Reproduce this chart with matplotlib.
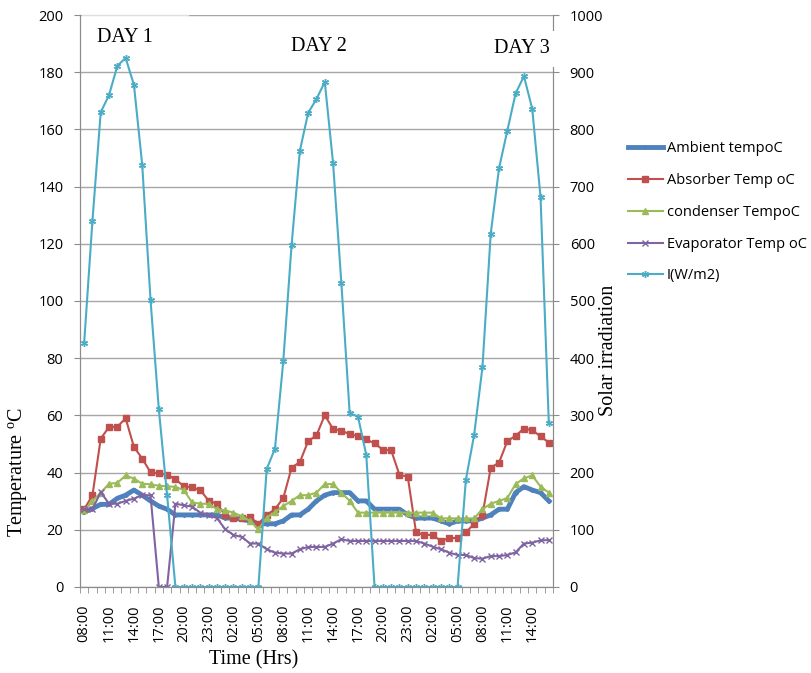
import numpy as np
import matplotlib
matplotlib.use('Agg')
import matplotlib.pyplot as plt
from matplotlib.patches import Rectangle

plt.rcParams['font.family'] = ['Open Sans', 'DejaVu Sans']
plt.rcParams['mathtext.fontset'] = 'custom'
plt.rcParams['mathtext.rm'] = 'Liberation Serif'

hours = ['08:00', '11:00', '14:00', '17:00', '20:00', '23:00', '02:00', '05:00',
	'08:00', '11:00', '14:00', '17:00', '20:00', '23:00', '02:00', '05:00',
	'08:00', '11:00', '14:00']

ambient = [26.2, 27.4, 28.9, 28.9, 31.0, 32.1, 33.9, 32.1, 30.1, 28.3,
	27.2, 25.2, 25.2, 25.2, 25.2, 25.2, 25.2, 24.1, 24.1, 23.6,
	23.1, 22.1, 22.1, 22.1, 23.1, 25.2, 25.2, 27.2, 30.1, 32.1,
	33.0, 33.0, 33.0, 30.1, 30.1, 27.2, 27.2, 27.2, 27.2, 25.2,
	24.1, 24.1, 24.1, 23.1, 22.1, 23.1, 23.1, 23.1, 24.1, 25.2,
	27.2, 27.2, 33.0, 35.1, 33.9, 33.0, 30.1]

absorber = [27.2, 32.0, 51.9, 55.9, 56.0, 59.0, 49.0, 44.9, 40.1, 39.7,
	39.3, 37.6, 35.3, 34.8, 33.9, 30.2, 29.1, 25.2, 24.1, 24.0,
	24.4, 22.1, 25.2, 27.2, 31.1, 41.7, 43.7, 51.0, 53.0, 60.1,
	55.2, 54.7, 53.4, 52.8, 51.6, 50.2, 48.0, 47.8, 39.2, 38.6,
	19.1, 18.2, 18.2, 16.1, 17.1, 17.1, 19.1, 22.1, 25.2, 41.7,
	43.5, 51.0, 52.9, 55.4, 54.8, 52.7, 50.5]

condenser = [26.8, 30.0, 33.0, 36.1, 36.4, 39.0, 37.9, 36.1, 35.9, 35.4,
	35.2, 35.0, 33.9, 29.6, 29.1, 29.1, 27.2, 26.8, 26.0, 24.7,
	23.1, 20.2, 24.2, 26.2, 28.3, 30.1, 32.1, 32.1, 33.0, 36.0,
	36.0, 33.0, 30.1, 26.0, 26.0, 26.0, 26.0, 26.0, 26.0, 26.0,
	26.0, 26.0, 26.0, 24.0, 24.0, 24.0, 24.0, 24.0, 27.2, 29.1,
	30.1, 31.1, 36.0, 38.0, 39.0, 35.1, 33.0]

evaporator = [27.2, 27.2, 33.2, 29.1, 29.1, 30.1, 30.9, 32.1, 32.1, 0.0,
	0.0, 29.1, 28.6, 28.1, 26.0, 25.1, 24.1, 20.2, 18.2, 17.5,
	15.2, 15.2, 13.2, 12.0, 11.7, 11.7, 13.2, 14.0, 14.0, 14.0,
	15.2, 16.7, 16.1, 16.1, 16.1, 16.1, 16.1, 16.1, 16.1, 16.1,
	16.1, 15.2, 14.1, 13.2, 12.0, 11.2, 11.2, 10.1, 9.9, 10.8,
	10.8, 11.2, 12.1, 15.2, 15.5, 16.3, 16.4]

irradiation = [426, 640, 830, 860, 911, 925, 878, 738, 502, 311,
	160, 0, 0, 0, 0, 0, 0, 0, 0, 0,
	0, 0, 206, 242, 395, 598, 763, 829, 853, 883,
	741, 531, 304, 298, 231, 0, 0, 0, 0, 0,
	0, 0, 0, 0, 0, 0, 187, 266, 384, 618,
	732, 798, 863, 893, 836, 682, 286]


def plot_days():
	fig = plt.figure(figsize=(8.12, 6.73), dpi=100)
	ax = fig.add_axes([0.0985, 0.1278, 0.5825, 0.8499])
	ax2 = ax.twinx()
	x = np.arange(len(ambient))
	grey = '#8c8c8c'

	ax.plot(x, ambient, color='#4F81BD', lw=3.5, marker='D', ms=2, label='Ambient tempoC')
	ax.plot(x, absorber, color='#C0504D', lw=1.5, marker='s', ms=4.5, label='Absorber Temp oC')
	ax.plot(x, condenser, color='#9BBB59', lw=1.5, marker='^', ms=4, label='condenser TempoC')
	ax.plot(x, evaporator, color='#8064A2', lw=1.5, marker='x', ms=4, mew=1, label='Evaporator Temp oC')
	ax2.plot(x, irradiation, color='#4BACC6', lw=1.5, marker=(6, 2, 0), ms=5, mew=1, label='I(W/m2)')

	ax.set_xlim(-0.5, len(x) - 0.5)
	ax.set_ylim(0, 200)
	ax2.set_ylim(0, 1000)
	ax.set_yticks(np.arange(0, 201, 20))
	ax2.set_yticks(np.arange(0, 1001, 100))
	ax.set_xticks(np.arange(0, len(x), 3))
	ax.set_xticklabels(hours, rotation=90, fontsize=10.5)
	ax.set_xticks(np.arange(-0.5, len(x), 1), minor=True)
	ax.tick_params(axis='x', which='major', length=0, pad=12.5)
	ax.tick_params(axis='x', which='minor', length=4, color=grey)
	ax.tick_params(axis='y', length=4, color=grey, labelsize=10.5, pad=8)
	ax2.tick_params(axis='y', length=4, color=grey, labelsize=10.5, pad=8)

	ax.grid(axis='y', color='#a6a6a6', lw=1)
	ax.set_axisbelow(True)
	for a in (ax, ax2):
		a.spines['top'].set_visible(False)
		for s in ('left', 'right', 'bottom'):
			a.spines[s].set_color(grey)

	serif = 'Liberation Serif'
	fig.text(0.0222, 0.2987, r'Temperature $^{\mathrm{o}}$C', family=serif, fontsize=14.5,
		rotation=90, ha='center', va='center')
	fig.text(0.7488, 0.480, 'Solar irradiation', family=serif, fontsize=14.5,
		rotation=90, ha='center', va='center')
	fig.text(0.3128, 0.0193, 'Time (Hrs)', family=serif, fontsize=14.5,
		ha='center', va='center')

	# white text boxes from the original sheet, they hide the grid behind them
	ax2.add_patch(Rectangle((0.004, 0.93), 0.224, 0.07, transform=ax.transAxes,
		facecolor='white', edgecolor='none', clip_on=False, zorder=9))
	ax2.plot([0.004, 0.228], [1, 1], transform=ax.transAxes, color='#dedede', lw=1,
		clip_on=False, zorder=9)
	box = dict(facecolor='white', edgecolor='none', pad=6)
	ax2.text(0.036, 0.96, 'DAY 1', transform=ax.transAxes, family=serif, fontsize=14.5,
		va='center', zorder=10)
	ax2.text(0.446, 0.945, 'DAY 2', transform=ax.transAxes, family=serif, fontsize=14.5,
		va='center', bbox=box, zorder=10)
	ax2.text(0.875, 0.941, 'DAY 3', transform=ax.transAxes, family=serif, fontsize=14.5,
		va='center', bbox=box, zorder=10)

	h1, l1 = ax.get_legend_handles_labels()
	h2, l2 = ax2.get_legend_handles_labels()
	fig.legend(h1 + h2, l1 + l2, loc='upper left', bbox_to_anchor=(0.773, 0.790),
		frameon=False, fontsize=10.5, handlelength=2.4, handletextpad=0.3,
		labelspacing=1.15, borderpad=0, borderaxespad=0)

	fig.savefig('out.png', dpi=100)


if __name__ == '__main__':
	plot_days()
